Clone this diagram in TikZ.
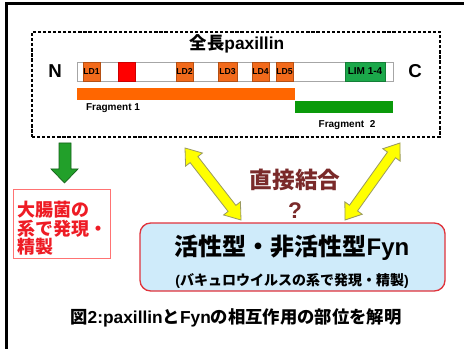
\documentclass[tikz,border=0pt]{standalone}
\usepackage{fontspec}
\setmainfont{Liberation Sans}
\newfontfamily\jp{Noto Sans CJK JP}
\usetikzlibrary{calc}
\definecolor{ldorange}{HTML}{F26A1B}
\definecolor{fragorange}{HTML}{FF6600}
\definecolor{limgreen}{HTML}{1BA84A}
\definecolor{fraggreen}{HTML}{0A9A0A}
\definecolor{arrowgreen}{HTML}{22A02A}
\definecolor{darkbrown}{HTML}{7A2A2A}
\definecolor{boxblue}{HTML}{CFEBFA}
\definecolor{boxred}{HTML}{E0343C}
\definecolor{yel}{HTML}{FFFF00}
\definecolor{yelline}{HTML}{9A9A60}
\definecolor{redtext}{HTML}{EE1C25}
\newcommand\fsz[1]{\fontsize{#1}{#1}\selectfont}
\newcommand\yelarrow[2]{%
  \path ($(#1)!11pt!(#2)$) coordinate (ya) ($(#2)!11pt!(#1)$) coordinate (yb);
  \draw[yarrow] (#1) -- ($(ya)!8pt!90:(#1)$) -- ($(ya)!3.7pt!90:(#1)$)
    -- ($(yb)!3.7pt!-90:(#2)$) -- ($(yb)!8pt!-90:(#2)$) -- (#2)
    -- ($(yb)!8pt!90:(#2)$) -- ($(yb)!3.7pt!90:(#2)$)
    -- ($(ya)!3.7pt!-90:(#1)$) -- ($(ya)!8pt!-90:(#1)$) -- cycle;}
\begin{document}
\begin{tikzpicture}[x=0.75pt,y=-0.75pt,
  ld/.style={fill=ldorange, draw=ldorange!75!black, line width=0.3pt, inner sep=0pt,
     minimum width=12.75pt, minimum height=14.25pt, font=\bfseries\fsz{6.5}},
  yarrow/.style={fill=yel, draw=yelline, line width=0.6pt, line join=miter},
  lbl/.style={inner sep=0pt, font=\bfseries}]
\useasboundingbox (0,0) rectangle (464,349);
\fill[white] (0,0) rectangle (464,349);
% outer frame (top and left edges)
\draw[line width=1.6pt] (6.5,349) -- (6.5,3.5) -- (464,3.5);
% dashed frame
\node[draw, dashed, dash pattern=on 2.4pt off 1.4pt, line width=0.9pt, inner sep=0pt,
  minimum width=306pt, minimum height=78.75pt] (full) at (236,84.5) {};
\node[lbl, font=\bfseries\fsz{13}] (title) at (237,44) {{\jp 全長}paxillin};
\node[lbl, font=\bfseries\fsz{14}] (N) at (55,71) {N};
\node[lbl, font=\bfseries\fsz{14}] (C) at (415,71) {C};
% protein bar
\node[draw=gray!70, line width=0.6pt, fill=white, inner sep=0pt,
  minimum width=237pt, minimum height=14.25pt] (bar) at (235,71.5) {};
\node[ld] (ld1) at (91.5,71.5) {LD1};
\node[ld, fill=red, draw=red!80!black] (red) at (126.5,71.5) {};
\node[ld] (ld2) at (184.5,71.5) {LD2};
\node[ld, minimum width=14.25pt] (ld3) at (227.5,71.5) {LD3};
\node[ld] (ld4) at (260.5,71.5) {LD4};
\node[ld] (ld5) at (284.5,71.5) {LD5};
\node[ld, fill=limgreen, draw=limgreen!75!black, minimum width=30pt, font=\bfseries\fsz{7.5}] (lim) at (365,71.5) {LIM 1-4};
% fragments
\fill[fragorange] (77,88) rectangle (295,100);
\fill[fraggreen] (295,101) rectangle (393,113);
\node[lbl, font=\bfseries\fsz{7.5}] (f1) at (113,108) {Fragment 1};
\node[lbl, font=\bfseries\fsz{7.5}] (f2) at (347,125.5) {Fragment\ \ 2};
% green arrow
\draw[draw=arrowgreen!60!black, fill=arrowgreen, line width=0.5pt]
  (59,143) -- (71,143) -- (71,169) -- (78,169) -- (64.5,183) -- (51,169) -- (59,169) -- cycle;
% red box
\node[draw=red!55, line width=0.6pt, fill=white, inner sep=0pt,
  minimum width=72.75pt, minimum height=51.75pt] (ecoli) at (61.5,223.5) {};
\node[anchor=west, align=left, inner sep=0pt, text=redtext,
  font=\jp\bfseries\fontsize{13.5}{13.9}\selectfont] (ecolitxt) at (17,228.5)
  {大腸菌の\\系で発現・\\精製};
% Fyn box
\node[draw=boxred, fill=boxblue, line width=1pt, rounded corners=8pt, inner sep=0pt,
  minimum width=228.75pt, minimum height=51pt] (fyn) at (292.5,257) {};
\node[lbl, font=\bfseries\fsz{18}] (fyn1) at (292,248) {{\jp 活性型・非活性型}Fyn};
\node[lbl, font=\bfseries\fsz{10.5}] (fyn2) at (292,280.5) {({\jp バキュロウイルスの系で発現・精製})};
% yellow arrows
\coordinate (la) at (185,148);
\coordinate (lb) at (241,220);
\coordinate (ra) at (400,143);
\coordinate (rb) at (345,220);
\yelarrow{la}{lb}
\yelarrow{ra}{rb}
\node[lbl, text=darkbrown, font=\jp\bfseries\fsz{17}] (direct) at (295,180) {直接結合};
\node[lbl, text=darkbrown, font=\bfseries\fsz{17}] (q) at (295,211) {?};
% caption
\node[lbl, font=\bfseries\fsz{13}] (cap) at (236,318) {{\jp 図}2:paxillin{\jp と}Fyn{\jp の相互作用の部位を解明}};
\end{tikzpicture}
\end{document}
